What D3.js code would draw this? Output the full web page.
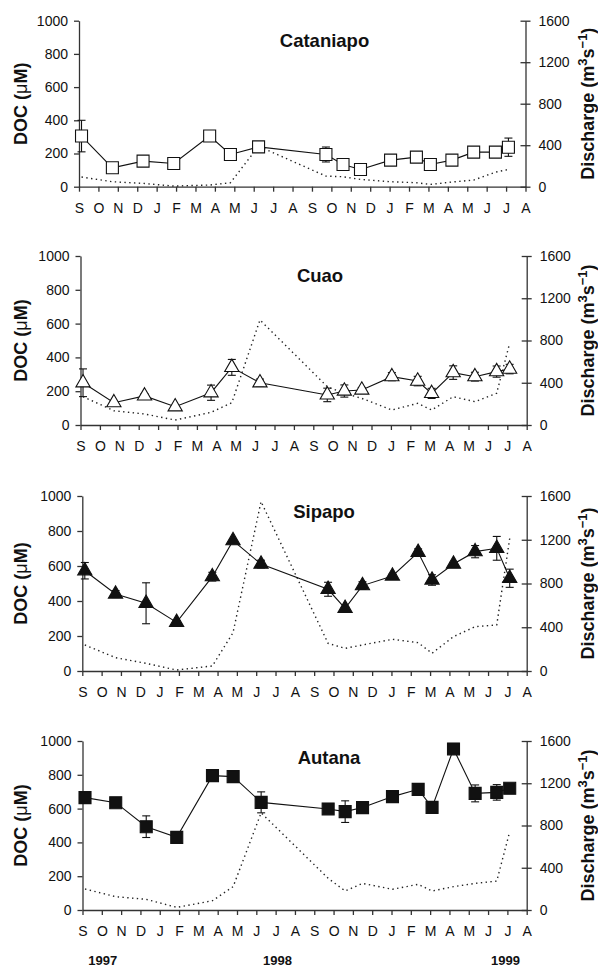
<!DOCTYPE html>
<html>
<head>
<meta charset="utf-8">
<script src="https://cdn.jsdelivr.net/npm/d3@7"></script>
<style>
  body { margin: 0; background: #fff; }
  text { font-family: "Liberation Sans", Arial, sans-serif; fill: #111; }
</style>
</head>
<body>
<script>
// month tick labels, Sep 1997 .. Aug 1999
var months = ["S","O","N","D","J","F","M","A","M","J","J","A",
              "S","O","N","D","J","F","M","A","M","J","J","A"];
var yearLabels = ["1997", "1998", "1999"];
var yearAt = [1.05, 10.1, 21.9];   // in month-index units

// sampling dates (month index, 0 = Sep 1997)
var sampleTimes = [0.13, 1.72, 3.3, 4.88, 6.73, 7.8, 9.25, 12.72, 13.6, 14.5,
                   16.05, 17.38, 18.1, 19.21, 20.33, 21.45, 22.12];

// DOC (uM), +/- error, discharge (m3/s)
var cataniapoDOC = [305, 114, 154, 140, 305, 194, 240, 194, 134, 104, 160, 178, 134, 160, 208, 208, 238];
var cataniapoErr = [95, 0, 0, 0, 0, 0, 0, 45, 0, 0, 0, 0, 0, 0, 0, 0, 55];
var cataniapoQ   = [93, 48, 32, 6, 16, 38, 390, 102, 96, 70, 48, 38, 22, 45, 64, 140, 166];

var cuaoDOC = [250, 132, 172, 108, 191, 341, 250, 178, 201, 207, 286, 260, 187, 310, 286, 316, 331];
var cuaoErr = [82, 0, 12, 0, 45, 47, 22, 40, 36, 15, 24, 28, 30, 40, 26, 33, 28];
var cuaoQ   = [268, 135, 104, 47, 120, 211, 994, 363, 300, 252, 142, 205, 142, 268, 221, 300, 773];

var sipapoDOC = [573, 440, 387, 278, 539, 745, 611, 467, 358, 488, 543, 678, 520, 611, 682, 701, 530];
var sipapoErr = [47, 20, 117, 10, 25, 10, 22, 40, 10, 22, 10, 20, 30, 10, 35, 68, 52];
var sipapoQ   = [238, 122, 70, 9, 46, 350, 1549, 253, 207, 238, 290, 259, 162, 314, 405, 421, 1213];

var autanaDOC = [665, 635, 493, 430, 795, 789, 637, 598, 582, 606, 671, 714, 607, 953, 690, 696, 720];
var autanaErr = [34, 0, 64, 0, 0, 0, 62, 0, 64, 0, 0, 0, 0, 0, 50, 46, 0];
var autanaQ   = [199, 126, 101, 25, 88, 221, 920, 300, 180, 252, 196, 243, 180, 221, 252, 274, 741];

var docTicks = [0, 200, 400, 600, 800, 1000];
var qTicks = [0, 400, 800, 1200, 1600];

// panel layout
var panels = [
  {name: "Cataniapo", doc: cataniapoDOC, err: cataniapoErr, q: cataniapoQ, shape: d3.symbolSquare, fill: "#fff",
   left: 79, right: 525.5, top: 20.7, bottom: 186.7, tx: 324.5, ty: 47.3},
  {name: "Cuao", doc: cuaoDOC, err: cuaoErr, q: cuaoQ, shape: d3.symbolTriangle, fill: "#fff",
   left: 80.5, right: 526.7, top: 256, bottom: 425, tx: 320, ty: 282.3},
  {name: "Sipapo", doc: sipapoDOC, err: sipapoErr, q: sipapoQ, shape: d3.symbolTriangle, fill: "#111",
   left: 82.3, right: 526.7, top: 496, bottom: 671, tx: 324, ty: 518.3},
  {name: "Autana", doc: autanaDOC, err: autanaErr, q: autanaQ, shape: d3.symbolSquare, fill: "#111",
   left: 82.5, right: 526.7, top: 741, bottom: 910, tx: 329, ty: 764.3}
];

var svg = d3.select("body").append("svg")
    .attr("width", 598)
    .attr("height", 967);

var fmt = d3.format("d");
var x;
panels.forEach(function(p, k) {
  x = d3.scaleLinear().domain([0, 23]).range([p.left, p.right]);
  var yL = d3.scaleLinear().domain([0, 1000]).range([p.bottom, p.top]);
  var yR = d3.scaleLinear().domain([0, 1600]).range([p.bottom, p.top]);

  var g = svg.append("g");

  // axes
  var ax = g.append("g")
      .attr("transform", "translate(0," + p.bottom + ")")
      .call(d3.axisBottom(x).tickValues(d3.range(24)).tickFormat(function(d) { return months[d]; })
            .tickSize(5).tickSizeOuter(0).tickPadding(11));
  var al = g.append("g")
      .attr("transform", "translate(" + p.left + ",0)")
      .call(d3.axisLeft(yL).tickValues(docTicks).tickFormat(fmt).tickSize(5).tickSizeOuter(0).tickPadding(6));
  var ar = g.append("g")
      .attr("transform", "translate(" + p.right + ",0)")
      .call(d3.axisRight(yR).tickValues(qTicks).tickFormat(fmt).tickSize(5).tickSizeOuter(0).tickPadding(8));
  ar.selectAll(".tick line").attr("x1", -5);

  [ax, al, ar].forEach(function(a) {
    a.selectAll("path, line").attr("stroke", "#333").attr("stroke-width", 1.3);
    a.selectAll("text").attr("font-size", 14).attr("fill", "#111")
      .style("font-family", "'Liberation Sans', Arial, sans-serif");
  });

  // discharge (dotted)
  var qline = d3.line()
      .x(function(d, i) { return x(sampleTimes[i]); })
      .y(function(d) { return yR(d); });
  g.append("path")
      .datum(p.q)
      .attr("d", qline)
      .attr("fill", "none")
      .attr("stroke", "#222")
      .attr("stroke-width", 1.4)
      .attr("stroke-dasharray", "1.4,3.4");

  // DOC line
  var dline = d3.line()
      .x(function(d, i) { return x(sampleTimes[i]); })
      .y(function(d) { return yL(d); });
  g.append("path")
      .datum(p.doc)
      .attr("d", dline)
      .attr("fill", "none")
      .attr("stroke", "#111")
      .attr("stroke-width", 1.1);

  // error bars
  var eb = g.selectAll(".eb")
      .data(p.doc.map(function(d, i) { return {t: sampleTimes[i], v: d, e: p.err[i]}; })
                 .filter(function(d) { return d.e > 0; }))
      .enter().append("g");
  eb.append("line")
      .attr("x1", function(d) { return x(d.t); })
      .attr("x2", function(d) { return x(d.t); })
      .attr("y1", function(d) { return yL(d.v - d.e); })
      .attr("y2", function(d) { return yL(d.v + d.e); });
  eb.append("line")
      .attr("x1", function(d) { return x(d.t) - 4; })
      .attr("x2", function(d) { return x(d.t) + 4; })
      .attr("y1", function(d) { return yL(d.v + d.e); })
      .attr("y2", function(d) { return yL(d.v + d.e); });
  eb.append("line")
      .attr("x1", function(d) { return x(d.t) - 4; })
      .attr("x2", function(d) { return x(d.t) + 4; })
      .attr("y1", function(d) { return yL(d.v - d.e); })
      .attr("y2", function(d) { return yL(d.v - d.e); });
  eb.selectAll("line").attr("stroke", "#111").attr("stroke-width", 1.1);

  // markers
  var sym = d3.symbol().type(p.shape).size(p.shape === d3.symbolSquare ? 144 : 88);
  g.selectAll(".mk")
      .data(p.doc)
      .enter().append("path")
      .attr("d", sym)
      .attr("transform", function(d, i) { return "translate(" + x(sampleTimes[i]) + "," + yL(d) + ")"; })
      .attr("fill", p.fill)
      .attr("stroke", "#111")
      .attr("stroke-width", 1.1);

  // river name
  g.append("text")
      .attr("x", p.tx)
      .attr("y", p.ty)
      .attr("text-anchor", "middle")
      .attr("font-size", 18.5)
      .attr("font-weight", "bold")
      .text(p.name);

  // left label
  var cy = (p.top + p.bottom) / 2;
  var tl = g.append("text")
      .attr("transform", "translate(27," + cy + ")rotate(-90)")
      .attr("text-anchor", "middle")
      .attr("font-size", 18)
      .attr("font-weight", "bold");
  tl.append("tspan").text("DOC (");
  tl.append("tspan").attr("font-weight", "normal").text("\u03bc");
  tl.append("tspan").text("M)");

  // right label
  var tr = g.append("text")
      .attr("transform", "translate(594," + cy + ")rotate(-90)")
      .attr("text-anchor", "middle")
      .attr("font-size", 18)
      .attr("font-weight", "bold");
  tr.append("tspan").text("Discharge (m");
  tr.append("tspan").attr("dy", -7).attr("font-size", 13).text("3");
  tr.append("tspan").attr("dy", 7).text("s");
  tr.append("tspan").attr("dy", -7).attr("font-size", 13).text("\u22121");
  tr.append("tspan").attr("dy", 7).text(")");
});

// years under the last panel
svg.selectAll(".yr")
    .data(yearLabels)
    .enter().append("text")
    .attr("x", function(d, i) { return x(yearAt[i]); })
    .attr("y", 965)
    .attr("text-anchor", "middle")
    .attr("font-size", 13)
    .attr("font-weight", "bold")
    .text(function(d) { return d; });
</script>
</body>
</html>
